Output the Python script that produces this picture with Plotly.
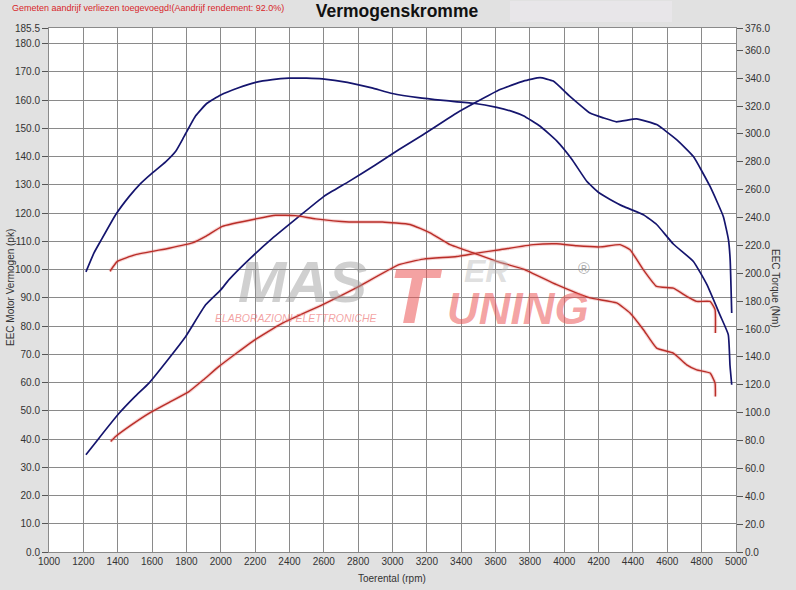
import plotly.graph_objects as go

# ---------------- data ----------------
# Tuned (blue) torque, Nm (right axis)
rpm_tuned_torque = [1215, 1262, 1300, 1388, 1466, 1530, 1592, 1679, 1740, 1786, 1854, 1920, 2000, 2100,
                    2203, 2300, 2397, 2500, 2591, 2737, 2880, 3000, 3150, 3296, 3471, 3607, 3700, 3762,
                    3860, 3956, 4043, 4131, 4200, 4267, 4344, 4461, 4538, 4635, 4752, 4830, 4907, 4955,
                    4965, 4975]
tuned_torque = [201, 214.6, 223, 242, 255, 264, 271, 280, 288, 298, 313, 322, 328, 333,
                337, 339, 340, 340, 339.5, 337, 333, 329, 326, 324, 322, 319, 316, 313,
                305.5, 295, 282, 266, 258, 253, 248, 242, 235, 221, 208.5, 192, 170, 156,
                134, 120]

# Tuned (blue) power, pk (left axis)
rpm_tuned_power = [1215, 1291, 1408, 1500, 1582, 1699, 1796, 1912, 2000, 2048, 2164, 2300, 2456, 2601,
                   2747, 2900, 3038, 3180, 3374, 3480, 3626, 3762, 3859, 3936, 4033, 4150, 4227, 4305,
                   4421, 4538, 4654, 4752, 4849, 4926, 4956, 4966, 4975]
tuned_power = [34.4, 40.3, 49.1, 55, 59.8, 68.6, 76.3, 87.5, 92.8, 96.4, 103.5, 111, 118.8, 125.9,
               131.2, 137, 142.5, 147.8, 155.4, 159, 163.7, 166.7, 167.9, 166.7, 161.3, 155.4, 153.7, 152.3,
               153.3, 151.3, 146, 140, 129.4, 118.8, 110.6, 103.5, 84.6]

# Stock (red) power, pk (left axis)
rpm_stock_power = [1359, 1388, 1480, 1582, 1700, 1815, 1900, 1990, 2184, 2359, 2591, 2786, 3038, 3180,
                   3374, 3490, 3626, 3820, 3956, 4072, 4208, 4325, 4383, 4461, 4538, 4635, 4713, 4771,
                   4849, 4878, 4880]
stock_power = [39.1, 40.9, 45, 49.1, 53, 56.8, 61, 65.7, 74.5, 81, 87.5, 93.4, 101.7, 103.7,
               104.6, 105.8, 107, 108.8, 109.1, 108.4, 108, 108.8, 107, 99.9, 94, 93.4, 90.5, 88.7,
               88.7, 85.8, 77.5]

# Stock (red) torque, Nm (right axis)
rpm_stock_torque = [1355, 1398, 1505, 1699, 1835, 1912, 2009, 2203, 2320, 2436, 2553, 2747, 2941, 3102,
                    3219, 3335, 3471, 3607, 3762, 3956, 4150, 4305, 4383, 4461, 4538, 4635, 4713, 4771,
                    4849, 4878, 4880]
stock_torque = [201.4, 208.5, 213.4, 218, 221.8, 226.5, 233.7, 239, 241.6, 241.4, 239, 236.8, 236.8, 235,
                229, 220.5, 214.6, 208.5, 203, 191.8, 182.3, 178.7, 171.5, 159.5, 146.3, 142.7, 134.3, 130.7,
                128.4, 121.2, 111.6]

x_ticks = list(range(1000, 5001, 200))
left_ticks = [float(v) for v in range(0, 181, 10)] + [185.5]
right_ticks = [float(v) for v in range(0, 361, 20)] + [376.0]

# ---------------- figure ----------------
W, H = 796, 590
ML, MR, MT, MB = 49, 60, 28, 38
PW, PH = W - ML - MR, H - MT - MB


def px(xp):
    return (xp - ML) / PW


def py(yp):
    return (H - MB - yp) / PH


BLUE = "#15156e"
RED = "#b92e28"
HALO = "rgba(225,95,95,0.28)"
FONT = "Liberation Sans, Arial, sans-serif"

fig = go.Figure()

# red halos
fig.add_trace(go.Scatter(x=rpm_stock_power, y=stock_power, mode="lines",
                         line=dict(color=HALO, width=3.5, shape="spline", smoothing=0.4),
                         hoverinfo="skip", showlegend=False))
fig.add_trace(go.Scatter(x=rpm_stock_torque, y=stock_torque, mode="lines", yaxis="y2",
                         line=dict(color=HALO, width=3.5, shape="spline", smoothing=0.4),
                         hoverinfo="skip", showlegend=False))

fig.add_trace(go.Scatter(x=rpm_stock_power, y=stock_power, mode="lines", name="Stock power",
                         line=dict(color=RED, width=1.4, shape="spline", smoothing=0.4), showlegend=False))
fig.add_trace(go.Scatter(x=rpm_stock_torque, y=stock_torque, mode="lines", name="Stock torque", yaxis="y2",
                         line=dict(color=RED, width=1.4, shape="spline", smoothing=0.4), showlegend=False))
fig.add_trace(go.Scatter(x=rpm_tuned_power, y=tuned_power, mode="lines", name="Tuned power",
                         line=dict(color=BLUE, width=1.7, shape="spline", smoothing=0.4), showlegend=False))
fig.add_trace(go.Scatter(x=rpm_tuned_torque, y=tuned_torque, mode="lines", name="Tuned torque", yaxis="y2",
                         line=dict(color=BLUE, width=1.7, shape="spline", smoothing=0.4), showlegend=False))

GRID = "#8a8a8a"
TICKFONT = dict(family=FONT, size=10, color="#333333")

fig.update_layout(
    width=W, height=H,
    margin=dict(l=ML, r=MR, t=MT, b=MB, pad=0),
    paper_bgcolor="#e1e1e1",
    plot_bgcolor="#ffffff",
    showlegend=False,
    title=dict(text="<b>Vermogenskromme</b>", x=397 / W, xref="container", xanchor="center",
               y=1 - 11 / H, yref="container", yanchor="middle",
               font=dict(family=FONT, size=17.5, color="#111111")),
    xaxis=dict(range=[1000, 5000], tickvals=x_ticks, ticktext=[str(v) for v in x_ticks],
               showgrid=True, gridcolor=GRID, gridwidth=1, zeroline=False,
               ticks="", tickfont=TICKFONT, showline=True, linecolor=GRID, mirror=True),
    yaxis=dict(range=[0, 185.5], tickvals=left_ticks, tickformat=".1f",
               showgrid=True, gridcolor=GRID, gridwidth=1, zeroline=False,
               ticks="outside", ticklen=6, tickcolor="#555555", tickfont=TICKFONT,
               showline=True, linecolor=GRID),
    yaxis2=dict(range=[0, 376], tickvals=right_ticks, tickformat=".1f", overlaying="y", side="right",
                showgrid=False, zeroline=False, ticks="outside", ticklen=6, tickcolor="#555555",
                tickfont=TICKFONT, showline=True, linecolor=GRID),
)


def note(text, x, y, font, angle=0, xanchor="center"):
    return dict(text=text, x=px(x), y=py(y), xref="paper", yref="paper", showarrow=False,
                xanchor=xanchor, yanchor="middle", textangle=angle, font=font)


ann = [
    note("Gemeten aandrijf verliezen toegevoegd!(Aandrijf rendement: 92.0%)", 10, 8,
         dict(family=FONT, size=9.0, color="#d8262a"), xanchor="left"),
    note("EEC Motor Vermogen (pk)", 10, 288, dict(family=FONT, size=10, color="#333333"), angle=-90),
    note("EEC Torque (Nm)", 776, 288, dict(family=FONT, size=10, color="#333333"), angle=90),
    note("Toerental (rpm)", 392, 578, dict(family=FONT, size=10, color="#333333")),
    # watermark logo
    note("MAS", 302, 281, dict(family=FONT, size=58, color="rgba(150,150,150,0.45)",
                               weight="bold", style="italic")),
    note("T", 416, 296, dict(family=FONT, size=78, color="rgba(235,85,85,0.55)",
                             weight="bold", style="italic")),
    note("ER", 486, 271, dict(family=FONT, size=32, color="rgba(185,185,185,0.45)",
                              weight="bold", style="italic")),
    note("UNING", 518, 308, dict(family=FONT, size=44, color="rgba(235,85,85,0.55)",
                                 weight="bold", style="italic")),
    note("ELABORAZIONI ELETTRONICHE", 296, 318, dict(family=FONT, size=10.5,
                                                      color="rgba(235,100,100,0.6)", style="italic")),
    note("®", 584, 268, dict(family=FONT, size=16, color="rgba(140,140,140,0.7)")),
]
fig.update_layout(annotations=ann)

# lighter box next to the title
fig.add_shape(type="rect", xref="paper", yref="paper", x0=px(510), x1=px(672), y0=py(22), y1=py(1),
              fillcolor="#e8e6e9", line=dict(width=0), layer="below")

fig.write_html("out.html", config={"displayModeBar": False},
               post_script="document.body.style.margin='0';document.body.style.background='#e1e1e1';")
